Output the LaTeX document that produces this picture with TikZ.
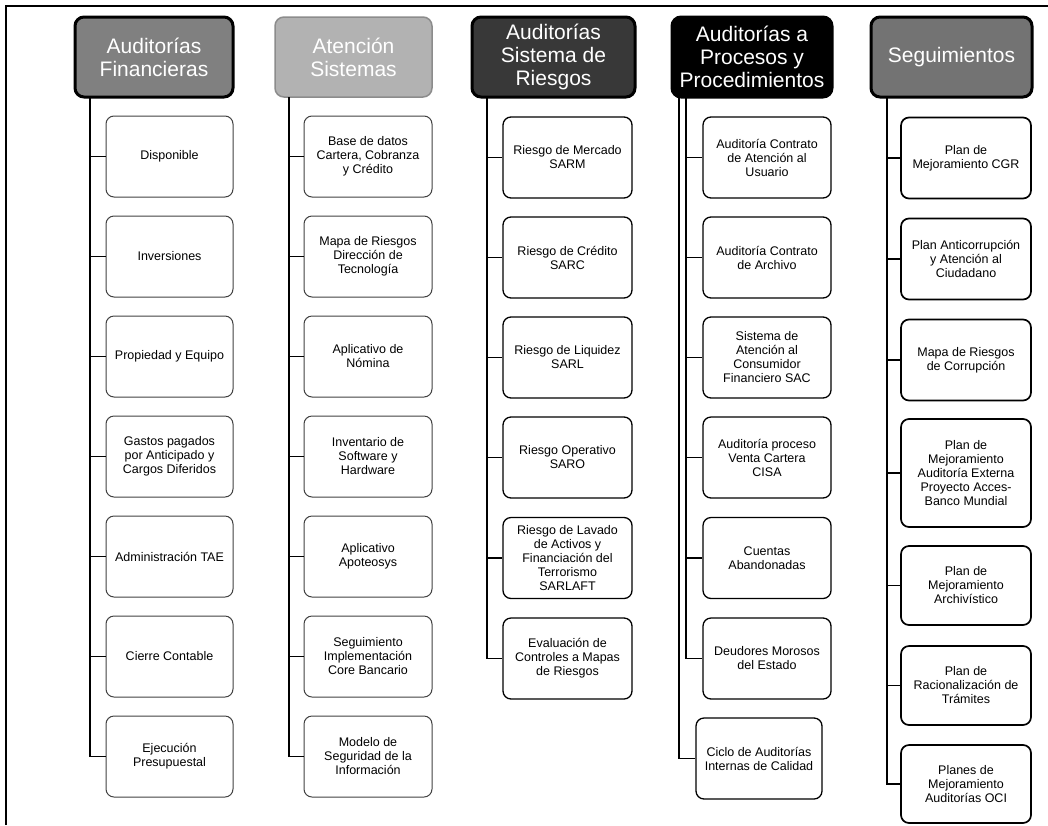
\documentclass[tikz,border=0pt]{standalone}
\usepackage{fontspec}
\setmainfont{Liberation Sans}
\begin{document}
\begin{tikzpicture}[x=1pt,y=-1pt,
  hdr/.style={rounded corners=9pt, line width=3pt, draw=black, minimum height=80pt,
    inner sep=0pt, align=center, text=white, font=\fontsize{21}{23}\selectfont},
  bx/.style={rounded corners=8pt, line width=1.1pt, draw=black, minimum height=81pt,
    inner sep=0pt, align=center, font=\fontsize{12.5}{14}\selectfont},
  bxa/.style={bx, draw=black!75, line width=1pt, minimum width=127pt},
  bxb/.style={bx, draw=black!75, line width=1pt, minimum width=128pt},
  bxc/.style={bx, line width=1.3pt, minimum width=129pt},
  bxd/.style={bx, line width=1.3pt, minimum width=128pt},
  bxe/.style={bx, line width=1.7pt, minimum width=130pt},
  conn/.style={line width=1.2pt, draw=black},
  frame/.style={line width=2pt, draw=black}
]
\useasboundingbox (0,0) rectangle (1048,825);
% frame
\coordinate (fa) at (6,825);
\coordinate (fb) at (6,6);
\coordinate (fc) at (1048,6);
\draw[frame] (fa) -- (fb) -- (fc);

% headers
\node[hdr, fill=black!50, minimum width=158pt] (h1) at (154,57) {Auditorías\\Financieras};
\node[hdr, fill=black!30, draw=black!45, line width=1.5pt, minimum width=157pt] (h2) at (353.5,57) {Atención\\Sistemas};
\node[hdr, fill=black!78, minimum width=163pt] (h3) at (553.5,57) {Auditorías\\Sistema de\\Riesgos};
\node[hdr, fill=black, minimum width=160pt] (h4) at (752,57) {Auditorías a\\Procesos y\\Procedimientos};
\node[hdr, fill=black!55, minimum width=161pt] (h5) at (951.5,57) {Seguimientos};

% column 1
\node[bxa] (a1) at (169.5,156.5) {Disponible};
\node[bxa] (a2) at (169.5,256.5) {Inversiones};
\node[bxa] (a3) at (169.5,356.5) {Propiedad y Equipo};
\node[bxa] (a4) at (169.5,456.5) {Gastos pagados\\por Anticipado y\\Cargos Diferidos};
\node[bxa] (a5) at (169.5,556.5) {Administración TAE};
\node[bxa] (a6) at (169.5,656.5) {Cierre Contable};
\node[bxa] (a7) at (169.5,756.5) {Ejecución\\Presupuestal};

% column 2
\node[bxb] (b1) at (368,156.5) {Base de datos\\Cartera, Cobranza\\y Crédito};
\node[bxb] (b2) at (368,256.5) {Mapa de Riesgos\\Dirección de\\Tecnología};
\node[bxb] (b3) at (368,356.5) {Aplicativo de\\Nómina};
\node[bxb] (b4) at (368,456.5) {Inventario de\\Software y\\Hardware};
\node[bxb] (b5) at (368,556.5) {Aplicativo\\Apoteosys};
\node[bxb] (b6) at (368,656.5) {Seguimiento\\Implementación\\Core Bancario};
\node[bxb] (b7) at (368,756.5) {Modelo de\\Seguridad de la\\Información};

% column 3
\node[bxc] (c1) at (567.5,157.5) {Riesgo de Mercado\\SARM};
\node[bxc] (c2) at (567.5,257.5) {Riesgo de Crédito\\SARC};
\node[bxc] (c3) at (567.5,357.5) {Riesgo de Liquidez\\SARL};
\node[bxc] (c4) at (567.5,457.5) {Riesgo Operativo\\SARO};
\node[bxc] (c5) at (567.5,558) {Riesgo de Lavado\\de Activos y\\Financiación del\\Terrorismo\\SARLAFT};
\node[bxc] (c6) at (567.5,658.5) {Evaluación de\\Controles a Mapas\\de Riesgos};

% column 4
\node[bxd] (d1) at (767,157.5) {Auditoría Contrato\\de Atención al\\Usuario};
\node[bxd] (d2) at (767,257.5) {Auditoría Contrato\\de Archivo};
\node[bxd] (d3) at (767,357.5) {Sistema de\\Atención al\\Consumidor\\Financiero SAC};
\node[bxd] (d4) at (767,457.5) {Auditoría proceso\\Venta Cartera\\CISA};
\node[bxd] (d5) at (767,558) {Cuentas\\Abandonadas};
\node[bxd] (d6) at (767,658.5) {Deudores Morosos\\del Estado};
\node[bxd, minimum width=126pt] (d7) at (759,758.5) {Ciclo de Auditorías\\Internas de Calidad};

% column 5
\node[bxe] (e1) at (966,158) {Plan de\\Mejoramiento CGR};
\node[bxe] (e2) at (966,259) {Plan Anticorrupción\\y Atención al\\Ciudadano};
\node[bxe] (e3) at (966,360) {Mapa de Riesgos\\de Corrupción};
\node[bxe, minimum height=108pt] (e4) at (966,473) {Plan de\\Mejoramiento\\Auditoría Externa\\Proyecto Acces-\\Banco Mundial};
\node[bxe, minimum height=79pt] (e5) at (966,585.5) {Plan de\\Mejoramiento\\Archivístico};
\node[bxe, minimum height=79pt] (e6) at (966,685.5) {Plan de\\Racionalización de\\Trámites};
\node[bxe, minimum height=78pt] (e7) at (966,784) {Planes de\\Mejoramiento\\Auditorías OCI};

% trunk tops
\coordinate (ta) at (90,97);
\coordinate (tb) at (289,97);
\coordinate (tc) at (487,97);
\coordinate (tdo) at (679,97);
\coordinate (tdi) at (686,97);
\coordinate (te) at (887,97);

% connectors
\draw[conn] (ta) |- (a7.west);
\foreach \n in {a1,a2,a3,a4,a5,a6} \draw[conn] (ta |- \n.west) -- (\n.west);
\draw[conn] (tb) |- (b7.west);
\foreach \n in {b1,b2,b3,b4,b5,b6} \draw[conn] (tb |- \n.west) -- (\n.west);
\draw[conn] (tc) |- (c6.west);
\foreach \n in {c1,c2,c3,c4,c5} \draw[conn] (tc |- \n.west) -- (\n.west);
\draw[conn] (tdo) |- (d7.west);
\draw[conn] (tdi) |- (d6.west);
\foreach \n in {d1,d2,d3,d4,d5} \draw[conn] (tdi |- \n.west) -- (\n.west);
\draw[conn] (te) |- (e7.west);
\foreach \n in {e1,e2,e3,e4,e5,e6} \draw[conn] (te |- \n.west) -- (\n.west);
\end{tikzpicture}
\end{document}
